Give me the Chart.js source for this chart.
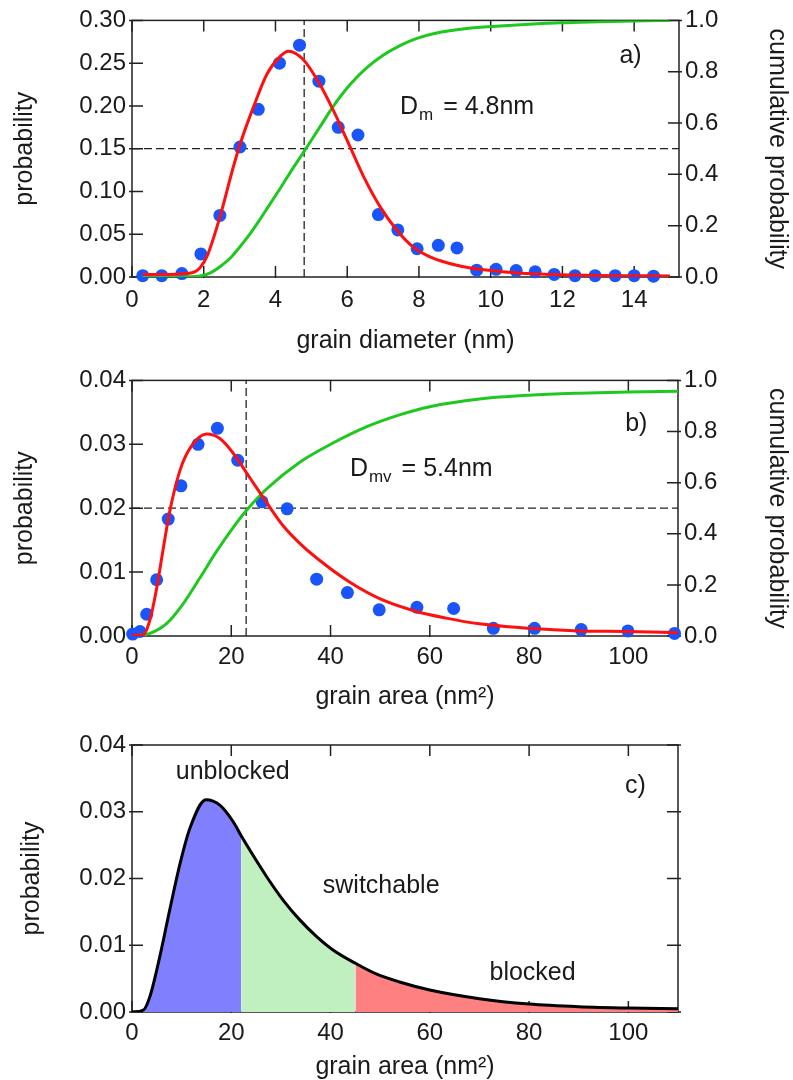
<!DOCTYPE html>
<html>
<head>
<meta charset="utf-8">
<script src="https://cdn.jsdelivr.net/npm/chart.js@4"></script>
<style>
    body { margin: 0; background: #fff; }
    .panel { position: absolute; left: 0; width: 793px; height: 360px; }
</style>
</head>
<body>
<div class="panel" style="top:0px"><canvas id="diamChart" width="793" height="360"></canvas></div>
<div class="panel" style="top:360px"><canvas id="areaChart" width="793" height="360"></canvas></div>
<div class="panel" style="top:720px"><canvas id="regionChart" width="793" height="360"></canvas></div>
<script>
// a) grain diameter histogram, lognormal fit and its cumulative curve
const diamBins = [0.30, 0.83, 1.39, 1.92, 2.45, 3.01, 3.52, 4.11, 4.67, 5.21, 5.75, 6.30, 6.87, 7.41, 7.95, 8.54, 9.06, 9.61, 10.15, 10.71, 11.24, 11.77, 12.35, 12.91, 13.47, 14.00, 14.54];
const diamProb = [0.0015, 0.0015, 0.004, 0.027, 0.072, 0.152, 0.196, 0.250, 0.271, 0.229, 0.175, 0.166, 0.073, 0.055, 0.033, 0.037, 0.034, 0.008, 0.009, 0.0075, 0.006, 0.003, 0.0015, 0.0015, 0.0015, 0.0015, 0.001];
const diamFitX = [0.3, 1.0, 1.5, 1.75, 1.9, 2.1, 2.45, 2.82, 3.01, 3.38, 3.76, 4.13, 4.36, 4.78, 5.24, 5.61, 5.80, 6.08, 6.45, 6.92, 7.38, 7.84, 8.31, 8.78, 9.24, 9.70, 10.26, 11.0, 12.0, 13.0, 14.0, 15.0];
const diamFitP = [0.003, 0.003, 0.004, 0.006, 0.011, 0.025, 0.070, 0.128, 0.155, 0.198, 0.237, 0.258, 0.264, 0.254, 0.225, 0.195, 0.178, 0.152, 0.118, 0.082, 0.055, 0.035, 0.0236, 0.0167, 0.012, 0.009, 0.0065, 0.004, 0.0025, 0.0018, 0.0015, 0.0012];
const diamCumX = [0.3, 1.0, 1.5, 1.9, 2.2, 2.45, 2.75, 3.01, 3.3, 3.57, 3.85, 4.13, 4.4, 4.8, 5.24, 5.61, 6.08, 6.54, 7.01, 7.47, 7.94, 8.40, 9.33, 10.26, 11.19, 11.93, 13.0, 14.0, 15.0];
const diamCum = [0, 0, 0.001, 0.004, 0.017, 0.04, 0.075, 0.118, 0.17, 0.225, 0.285, 0.345, 0.405, 0.49, 0.585, 0.665, 0.75, 0.815, 0.865, 0.902, 0.93, 0.948, 0.968, 0.978, 0.986, 0.991, 0.995, 0.998, 1.0];
const diamMedian = 4.8;

// b) grain area histogram, fit and cumulative curve
const areaBins = [0.13, 1.6, 2.96, 4.97, 7.3, 9.86, 13.3, 17.2, 21.3, 26.2, 31.25, 37.2, 43.4, 49.8, 57.4, 64.8, 72.8, 81.1, 90.5, 99.9, 109.3];
const areaProb = [0.0003, 0.0007, 0.0034, 0.0088, 0.0183, 0.0235, 0.0300, 0.0325, 0.0275, 0.0210, 0.0199, 0.0089, 0.0068, 0.0041, 0.0045, 0.0043, 0.0012, 0.0012, 0.0010, 0.0008, 0.0004];
const areaFitX = [0, 2.3, 3.6, 5.0, 6.3, 7.6, 9.7, 11.7, 15.0, 17.7, 20.4, 23.7, 27.1, 30.4, 33.8, 37.2, 43.9, 50, 56.6, 63.3, 70, 80, 90, 100, 110];
const areaFitP = [0.0001, 0.0002, 0.0025, 0.0076, 0.0137, 0.0195, 0.026, 0.0294, 0.0316, 0.0309, 0.0286, 0.0248, 0.0209, 0.0173, 0.0145, 0.0122, 0.0084, 0.0058, 0.0040, 0.0028, 0.0019, 0.0012, 0.0008, 0.0007, 0.0005];
const areaCumX = [0, 3.6, 7.0, 10.3, 13.7, 17.0, 20.4, 23.0, 27.1, 33.8, 40.5, 47.2, 53.9, 60, 70, 80, 90, 100, 110];
const areaCum = [0, 0.01, 0.049, 0.126, 0.228, 0.33, 0.425, 0.49, 0.575, 0.68, 0.755, 0.818, 0.865, 0.897, 0.927, 0.942, 0.95, 0.955, 0.958];
const areaMedian = 23;
const areaDmv = 5.4;

// c) fitted area distribution split into switching regimes
const shapeX = [0, 2.3, 3.6, 5.6, 7.6, 9.7, 11.7, 14.9, 17.7, 20.4, 22, 23.7, 27.1, 30.4, 33.8, 37.2, 40.5, 45, 49.2, 53.9, 60, 70, 80, 90, 100, 110];
const shapeP = [0, 0.0003, 0.0023, 0.0083, 0.0153, 0.0223, 0.0276, 0.0318, 0.031, 0.0285, 0.0264, 0.0243, 0.0203, 0.0168, 0.0138, 0.0113, 0.0093, 0.0073, 0.0057, 0.0045, 0.0033, 0.002, 0.0012, 0.0008, 0.0006, 0.0005];
const unblockedMax = 22;
const switchableMax = 45;

// tick values
const diamTicks = [0, 2, 4, 6, 8, 10, 12, 14];
const diamProbTicks = [0, 0.05, 0.10, 0.15, 0.20, 0.25, 0.30];
const cumTicks = [0, 0.2, 0.4, 0.6, 0.8, 1.0];
const areaTicks = [0, 20, 40, 60, 80, 100];
const areaProbTicks = [0, 0.01, 0.02, 0.03, 0.04];

const FONT = '"Liberation Sans", Arial, Helvetica, sans-serif';
const INK = "#1a1a1a";
const BLUE = "rgb(25, 85, 250)";
const RED = "#ff1010";
const GREEN = "#1ec81e";

const pts = (xs, ys) => xs.map((x, i) => ({ x: x, y: ys[i] }));
const fixedTicks = (values) => (scale) => {
    scale.ticks = values.map((v) => ({ value: v }));
};

// box around the plot area with inward tick marks on all four sides
const frameTicks = {
    id: "frameTicks",
    beforeDatasetsDraw(chart) {
        const { ctx, chartArea: a, scales } = chart;
        const xs = scales.x, ys = scales.y, yr = scales.y2 || scales.y;
        ctx.save();
        ctx.strokeStyle = "#222";
        ctx.lineWidth = 1.5;
        ctx.strokeRect(a.left, a.top, a.right - a.left, a.bottom - a.top);
        ctx.beginPath();
        xs.ticks.forEach((t) => {
            const px = xs.getPixelForValue(t.value);
            ctx.moveTo(px, a.bottom + 1);
            ctx.lineTo(px, a.bottom - 11);
            ctx.moveTo(px, a.top);
            ctx.lineTo(px, a.top + 11);
        });
        ys.ticks.forEach((t) => {
            const py = ys.getPixelForValue(t.value);
            ctx.moveTo(a.left - 3, py);
            ctx.lineTo(a.left + 11, py);
        });
        yr.ticks.forEach((t) => {
            const py = yr.getPixelForValue(t.value);
            ctx.moveTo(a.right + 3, py);
            ctx.lineTo(a.right - 11, py);
        });
        ctx.stroke();
        ctx.restore();
    },
};

// text labels placed in data coordinates; "sub" is a subscript after the main text
const makeNotes = (items) => ({
    id: "notes",
    afterDatasetsDraw(chart) {
        const { ctx, scales } = chart;
        ctx.save();
        ctx.fillStyle = INK;
        items.forEach((n) => {
            let px = scales.x.getPixelForValue(n.x);
            const py = scales.y.getPixelForValue(n.y);
            ctx.font = `25px ${FONT}`;
            if (!n.sub) {
                ctx.textAlign = "center";
                ctx.textBaseline = "middle";
                ctx.fillText(n.text, px, py);
                return;
            }
            ctx.textAlign = "left";
            ctx.textBaseline = "alphabetic";
            ctx.fillText(n.text, px, py);
            px += ctx.measureText(n.text).width + 1;
            ctx.font = `17px ${FONT}`;
            ctx.fillText(n.sub, px, py + 6);
            px += ctx.measureText(n.sub).width + 10;
            ctx.font = `25px ${FONT}`;
            ctx.fillText(n.after, px, py);
        });
        ctx.restore();
    },
});

const tickFont = { family: FONT, size: 24 };
const titleFont = { family: FONT, size: 25 };

const xAxis = (max, ticks, title, height, tickPad, titlePad) => ({
    type: "linear",
    position: "bottom",
    min: 0,
    max: max,
    afterBuildTicks: fixedTicks(ticks),
    afterFit: (s) => { s.height = height; },
    grid: { display: false, drawTicks: false },
    border: { display: false },
    ticks: { font: tickFont, color: INK, padding: tickPad, maxRotation: 0, autoSkip: false },
    title: { display: true, text: title, font: titleFont, color: INK, padding: { top: 0, bottom: titlePad } },
});

const yAxis = (max, ticks, digits, position, width, title, titlePad) => ({
    type: "linear",
    position: position,
    min: 0,
    max: max,
    afterBuildTicks: fixedTicks(ticks),
    afterFit: (s) => { s.width = width; },
    grid: { display: false, drawTicks: false },
    border: { display: false },
    ticks: {
        font: tickFont,
        color: INK,
        padding: 6,
        autoSkip: false,
        callback: (v) => Number(v).toFixed(digits),
    },
    title: { display: true, text: title, font: titleFont, color: INK, padding: { top: titlePad, bottom: 0 } },
});

const curve = (data, color, axis) => ({
    data: data,
    yAxisID: axis,
    showLine: true,
    borderColor: color,
    borderWidth: 3,
    pointRadius: 0,
    cubicInterpolationMode: "monotone",
    fill: false,
    order: 0,
});

const dots = (data) => ({
    data: data,
    yAxisID: "y",
    showLine: false,
    pointRadius: 6.5,
    pointBackgroundColor: BLUE,
    pointBorderWidth: 0,
    clip: false,
    order: 1,
});

const dashed = (data, axis) => ({
    data: data,
    yAxisID: axis,
    showLine: true,
    borderColor: "#222",
    borderWidth: 1.3,
    borderDash: [8, 4],
    pointRadius: 0,
    fill: false,
    order: 2,
});

const baseOptions = (padTop, padRight, scales) => ({
    responsive: false,
    animation: false,
    devicePixelRatio: 1,
    events: [],
    layout: { padding: { top: padTop, left: 0, right: padRight, bottom: 0 } },
    plugins: { legend: { display: false }, tooltip: { enabled: false } },
    scales: scales,
});

// a) grain diameter
new Chart(document.getElementById("diamChart").getContext("2d"), {
    type: "scatter",
    data: {
        datasets: [
            curve(pts(diamFitX, diamFitP), RED, "y"),
            curve(pts(diamCumX, diamCum), GREEN, "y2"),
            dots(pts(diamBins, diamProb)),
            dashed([{ x: diamMedian, y: 0 }, { x: diamMedian, y: 1 }], "y2"),
            dashed([{ x: 0, y: 0.5 }, { x: 15.25, y: 0.5 }], "y2"),
        ],
    },
    options: baseOptions(19, 0, {
        x: xAxis(15.25, diamTicks, "grain diameter (nm)", 83, 9, 4),
        y: yAxis(0.30, diamProbTicks, 2, "left", 132, "probability", 10),
        y2: yAxis(1.0, cumTicks, 1, "right", 114, "cumulative probability", 1),
    }),
    plugins: [frameTicks, makeNotes([
        { text: "a)", x: 13.9, y: 0.258 },
        { text: "D", sub: "m", after: "= " + diamMedian + "nm", x: 7.47, y: 0.190 },
    ])],
});

// b) grain area
new Chart(document.getElementById("areaChart").getContext("2d"), {
    type: "scatter",
    data: {
        datasets: [
            curve(pts(areaFitX, areaFitP), RED, "y"),
            curve(pts(areaCumX, areaCum), GREEN, "y2"),
            dots(pts(areaBins, areaProb)),
            dashed([{ x: areaMedian, y: 0 }, { x: areaMedian, y: 1 }], "y2"),
            dashed([{ x: 0, y: 0.5 }, { x: 110, y: 0.5 }], "y2"),
        ],
    },
    options: baseOptions(16, 0, {
        x: xAxis(110, areaTicks, "grain area (nm²)", 84, 7, 8),
        y: yAxis(0.04, areaProbTicks, 2, "left", 132, "probability", 10),
        y2: yAxis(1.0, cumTicks, 1, "right", 115, "cumulative probability", 1),
    }),
    plugins: [frameTicks, makeNotes([
        { text: "b)", x: 101.6, y: 0.0332 },
        { text: "D", sub: "mv", after: "= " + areaDmv + "nm", x: 43.9, y: 0.025 },
    ])],
});

// c) regimes under the area distribution
const region = (lo, hi, color) => ({
    data: pts(shapeX, shapeP).filter((p) => p.x >= lo && p.x <= hi),
    showLine: true,
    borderWidth: 0,
    backgroundColor: color,
    pointRadius: 0,
    cubicInterpolationMode: "monotone",
    fill: "origin",
    order: 1,
});

new Chart(document.getElementById("regionChart").getContext("2d"), {
    type: "scatter",
    data: {
        datasets: [
            curve(pts(shapeX, shapeP), "#000", "y"),
            region(0, unblockedMax, "#8080ff"),
            region(unblockedMax, switchableMax, "#c0f0c0"),
            region(switchableMax, 110, "#ff8080"),
        ],
    },
    options: baseOptions(25, 115, {
        x: xAxis(110, areaTicks, "grain area (nm²)", 68, 7, -2),
        y: yAxis(0.04, areaProbTicks, 2, "left", 132, "probability", 17),
    }),
    plugins: [frameTicks, makeNotes([
        { text: "c)", x: 101.4, y: 0.0338 },
        { text: "unblocked", x: 20.3, y: 0.036 },
        { text: "switchable", x: 50.2, y: 0.0188 },
        { text: "blocked", x: 80.7, y: 0.0059 },
    ])],
});
</script>
</body>
</html>
